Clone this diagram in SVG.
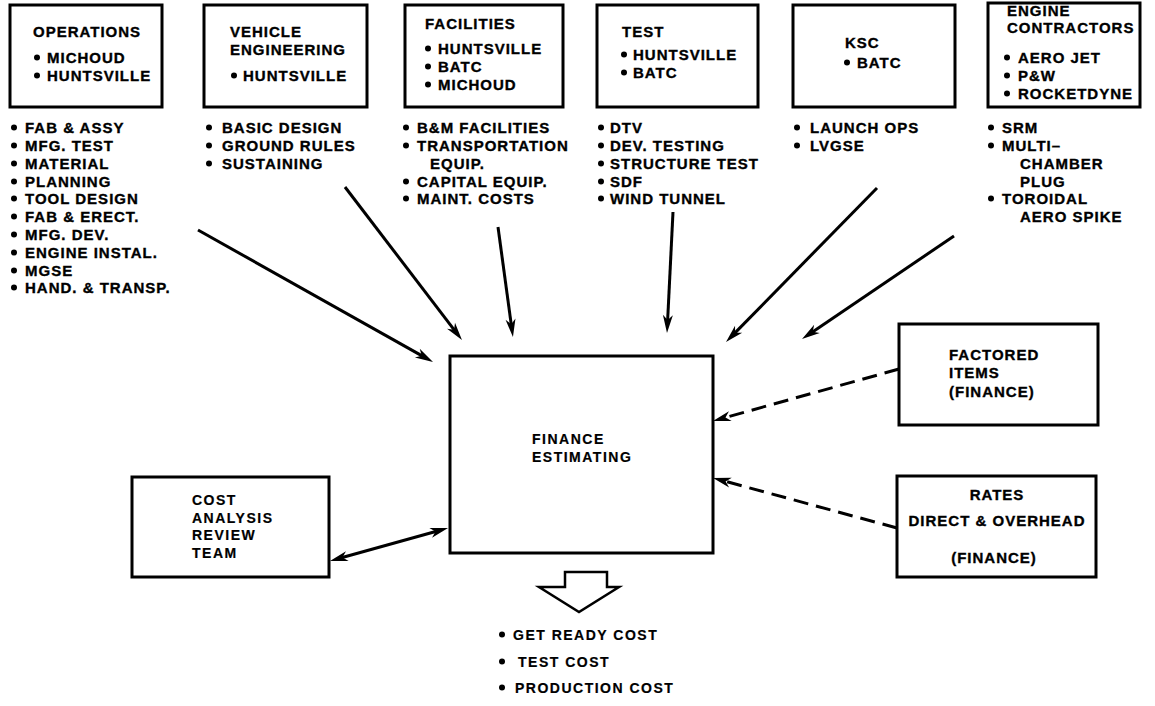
<svg xmlns="http://www.w3.org/2000/svg" width="1155" height="706" viewBox="0 0 1155 706">
  <style>
    .box { fill: #fff; stroke: #000; stroke-width: 3; }
    text { font-family: "Liberation Sans", Arial, sans-serif; font-weight: bold; fill: #000; stroke: #000; stroke-width: 0.35px; }
    .t { font-size: 15px; letter-spacing: 1px; }
    .l { font-size: 15px; letter-spacing: 1px; }
    .c { font-size: 14px; letter-spacing: 1.5px; stroke-width: 0.2px; }
    .dot { fill: #000; }
    .arrow { fill: none; stroke: #000; stroke-width: 3; marker-end: url(#head); }
    .dash { stroke-dasharray: 15 8; }
  </style>
  <defs>
    <marker id="head" viewBox="-10 -6 22 12" refX="0" refY="0" markerWidth="22" markerHeight="12" markerUnits="userSpaceOnUse" orient="auto-start-reverse">
      <path d="M10,0 L-8,-5 L-3,0 L-8,5 Z" fill="#000"/>
    </marker>
  </defs>
  <rect width="1155" height="706" fill="#fff"/>

  <!-- source organisations -->
  <g id="operations">
    <rect class="box" x="10" y="5" width="152" height="102"/>
    <text class="t" x="33" y="37">OPERATIONS</text>
    <circle class="dot" cx="37" cy="57.5" r="3"/>
    <text class="t" x="47" y="63">MICHOUD</text>
    <circle class="dot" cx="37" cy="75.5" r="3"/>
    <text class="t" x="47" y="81">HUNTSVILLE</text>
    <g class="dots">
      <circle class="dot" cx="14" cy="127.5" r="3"/>
      <circle class="dot" cx="14" cy="145.5" r="3"/>
      <circle class="dot" cx="14" cy="163.5" r="3"/>
      <circle class="dot" cx="14" cy="181.5" r="3"/>
      <circle class="dot" cx="14" cy="198.5" r="3"/>
      <circle class="dot" cx="14" cy="216.5" r="3"/>
      <circle class="dot" cx="14" cy="234.5" r="3"/>
      <circle class="dot" cx="14" cy="252.5" r="3"/>
      <circle class="dot" cx="14" cy="270.5" r="3"/>
      <circle class="dot" cx="14" cy="287.5" r="3"/>
    </g>
    <text class="l" x="25" y="133">FAB &amp; ASSY</text>
    <text class="l" x="25" y="151">MFG. TEST</text>
    <text class="l" x="25" y="169">MATERIAL</text>
    <text class="l" x="25" y="187">PLANNING</text>
    <text class="l" x="25" y="204">TOOL DESIGN</text>
    <text class="l" x="25" y="222">FAB &amp; ERECT.</text>
    <text class="l" x="25" y="240">MFG. DEV.</text>
    <text class="l" x="25" y="258">ENGINE INSTAL.</text>
    <text class="l" x="25" y="276">MGSE</text>
    <text class="l" x="25" y="293">HAND. &amp; TRANSP.</text>
  </g>

  <g id="vehicle-engineering">
    <rect class="box" x="204" y="5" width="163" height="102"/>
    <text class="t" x="230" y="37">VEHICLE</text>
    <text class="t" x="230" y="55">ENGINEERING</text>
    <circle class="dot" cx="234" cy="75.5" r="3"/>
    <text class="t" x="243" y="81">HUNTSVILLE</text>
    <circle class="dot" cx="209" cy="127.5" r="3"/>
    <circle class="dot" cx="209" cy="145.5" r="3"/>
    <circle class="dot" cx="209" cy="163.5" r="3"/>
    <text class="l" x="222" y="133">BASIC DESIGN</text>
    <text class="l" x="222" y="151">GROUND RULES</text>
    <text class="l" x="222" y="169">SUSTAINING</text>
  </g>

  <g id="facilities">
    <rect class="box" x="405" y="5" width="158" height="102"/>
    <text class="t" x="425" y="29">FACILITIES</text>
    <circle class="dot" cx="428" cy="48.5" r="3"/>
    <text class="t" x="438" y="54">HUNTSVILLE</text>
    <circle class="dot" cx="428" cy="66.5" r="3"/>
    <text class="t" x="438" y="72">BATC</text>
    <circle class="dot" cx="428" cy="84.5" r="3"/>
    <text class="t" x="438" y="90">MICHOUD</text>
    <circle class="dot" cx="406" cy="127.5" r="3"/>
    <circle class="dot" cx="406" cy="145.5" r="3"/>
    <circle class="dot" cx="406" cy="181.5" r="3"/>
    <circle class="dot" cx="406" cy="198.5" r="3"/>
    <text class="l" x="417" y="133">B&amp;M FACILITIES</text>
    <text class="l" x="417" y="151">TRANSPORTATION</text>
    <text class="l" x="430" y="169">EQUIP.</text>
    <text class="l" x="417" y="187">CAPITAL EQUIP.</text>
    <text class="l" x="417" y="204">MAINT. COSTS</text>
  </g>

  <g id="test">
    <rect class="box" x="597" y="5" width="161" height="102"/>
    <text class="t" x="622" y="37">TEST</text>
    <circle class="dot" cx="624" cy="54.5" r="3"/>
    <text class="t" x="633" y="60">HUNTSVILLE</text>
    <circle class="dot" cx="624" cy="72.5" r="3"/>
    <text class="t" x="633" y="78">BATC</text>
    <circle class="dot" cx="601" cy="127.5" r="3"/>
    <circle class="dot" cx="601" cy="145.5" r="3"/>
    <circle class="dot" cx="601" cy="163.5" r="3"/>
    <circle class="dot" cx="601" cy="181.5" r="3"/>
    <circle class="dot" cx="601" cy="198.5" r="3"/>
    <text class="l" x="610" y="133">DTV</text>
    <text class="l" x="610" y="151">DEV. TESTING</text>
    <text class="l" x="610" y="169">STRUCTURE TEST</text>
    <text class="l" x="610" y="187">SDF</text>
    <text class="l" x="610" y="204">WIND TUNNEL</text>
  </g>

  <g id="ksc">
    <rect class="box" x="793" y="5" width="162" height="102"/>
    <text class="t" x="845" y="48">KSC</text>
    <circle class="dot" cx="847" cy="62.5" r="3"/>
    <text class="t" x="857" y="68">BATC</text>
    <circle class="dot" cx="797" cy="127.5" r="3"/>
    <circle class="dot" cx="797" cy="145.5" r="3"/>
    <text class="l" x="810" y="133">LAUNCH OPS</text>
    <text class="l" x="810" y="151">LVGSE</text>
  </g>

  <g id="engine-contractors">
    <rect class="box" x="988" y="3" width="152" height="104"/>
    <text class="t" x="1007" y="16">ENGINE</text>
    <text class="t" x="1007" y="33">CONTRACTORS</text>
    <circle class="dot" cx="1007" cy="57.5" r="3"/>
    <text class="t" x="1018" y="63">AERO JET</text>
    <circle class="dot" cx="1007" cy="75.5" r="3"/>
    <text class="t" x="1018" y="81">P&amp;W</text>
    <circle class="dot" cx="1007" cy="93.5" r="3"/>
    <text class="t" x="1018" y="99">ROCKETDYNE</text>
    <circle class="dot" cx="991" cy="127.5" r="3"/>
    <circle class="dot" cx="991" cy="145.5" r="3"/>
    <circle class="dot" cx="991" cy="198.5" r="3"/>
    <text class="l" x="1002" y="133">SRM</text>
    <text class="l" x="1002" y="151">MULTI–</text>
    <text class="l" x="1020" y="169">CHAMBER</text>
    <text class="l" x="1020" y="187">PLUG</text>
    <text class="l" x="1002" y="204">TOROIDAL</text>
    <text class="l" x="1020" y="222">AERO SPIKE</text>
  </g>

  <!-- central estimating function -->
  <g id="finance-estimating">
    <rect class="box" x="450" y="356" width="263" height="197"/>
    <text class="c" x="532" y="444">FINANCE</text>
    <text class="c" x="532" y="462">ESTIMATING</text>
  </g>

  <g id="factored-items">
    <rect class="box" x="899" y="324" width="199" height="101"/>
    <text class="t" x="949" y="360">FACTORED</text>
    <text class="t" x="949" y="378">ITEMS</text>
    <text class="t" x="949" y="397">(FINANCE)</text>
  </g>

  <g id="rates">
    <rect class="box" x="897" y="476" width="199" height="101"/>
    <text class="t" x="997" y="500" text-anchor="middle">RATES</text>
    <text class="t" x="997" y="526" text-anchor="middle">DIRECT &amp; OVERHEAD</text>
    <text class="t" x="994" y="563" text-anchor="middle">(FINANCE)</text>
  </g>

  <g id="cost-analysis-review-team">
    <rect class="box" x="132" y="477" width="197" height="100"/>
    <text class="c" x="192" y="505">COST</text>
    <text class="c" x="192" y="523">ANALYSIS</text>
    <text class="c" x="192" y="540">REVIEW</text>
    <text class="c" x="192" y="558">TEAM</text>
  </g>

  <!-- outputs -->
  <g id="outputs">
    <polygon points="565,572 607,572 607,587 619,587 579,612 539,587 565,587" fill="#fff" stroke="#000" stroke-width="2.5" stroke-linejoin="miter"/>
    <circle class="dot" cx="502" cy="634.5" r="3"/>
    <text class="c" x="513" y="640">GET READY COST</text>
    <circle class="dot" cx="502" cy="661.5" r="3"/>
    <text class="c" x="518" y="667">TEST COST</text>
    <circle class="dot" cx="502" cy="687.5" r="3"/>
    <text class="c" x="515" y="693">PRODUCTION COST</text>
  </g>

  <!-- connectors -->
  <g id="connectors">
    <path class="arrow" d="M198,230 L424.3,357.1"/>
    <path class="arrow" d="M345,187 L455.9,332.1"/>
    <path class="arrow" d="M498,227 L511.6,327.1"/>
    <path class="arrow" d="M673,212 L667.5,323"/>
    <path class="arrow" d="M877,188 L733,334.9"/>
    <path class="arrow" d="M954,236 L810.3,333.4"/>
    <path class="arrow dash" d="M899,369 L722.6,418.3"/>
    <path class="arrow dash" d="M897,528 L722.7,480.6"/>
    <path class="arrow" d="M339.6,558.3 L438.4,530.7" marker-start="url(#head)"/>
  </g>
</svg>
